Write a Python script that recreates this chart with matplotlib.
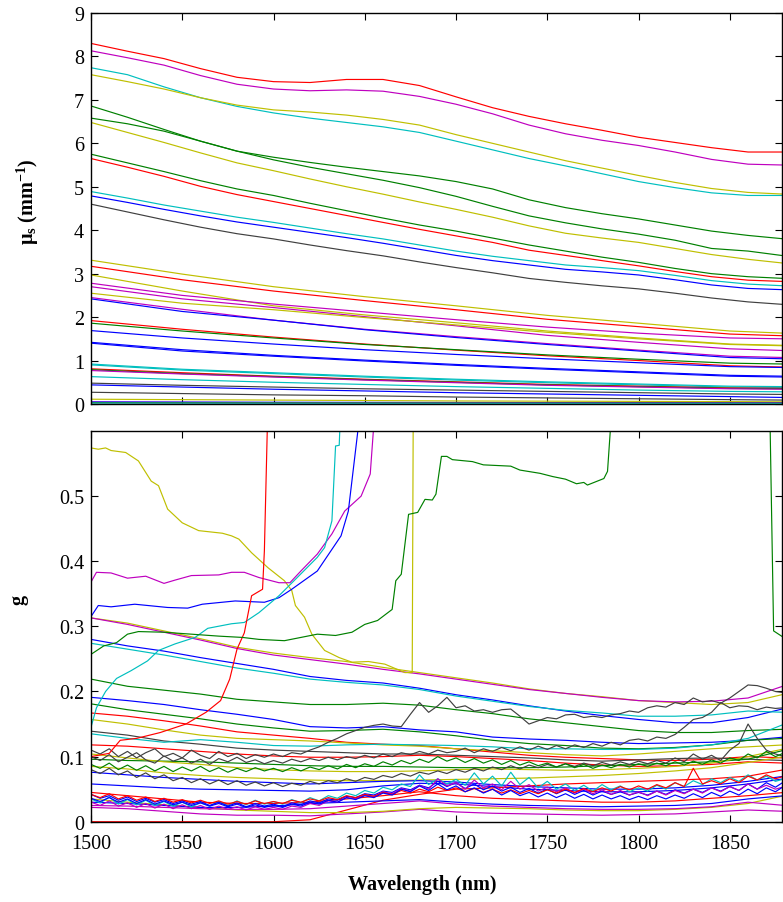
"""Scattering coefficient and anisotropy spectra, 1500-1880 nm."""

import matplotlib
matplotlib.use('Agg')
import matplotlib.pyplot as plt
from matplotlib.ticker import FuncFormatter

plt.rcParams['font.family'] = 'Liberation Serif'
plt.rcParams['mathtext.fontset'] = 'custom'
plt.rcParams['mathtext.rm'] = 'Liberation Serif'
plt.rcParams['mathtext.it'] = 'Liberation Serif:italic'
plt.rcParams['mathtext.bf'] = 'Liberation Serif:bold'

fontsize_ticks = 14.5
fontsize_label = 14.5
line_width = 0.85

colors = {'b': '#0000ff', 'g': '#008000', 'r': '#ff0000', 'c': '#00bfbf',
          'm': '#bf00bf', 'y': '#bfbf00', 'k': '#404040'}

# ---- mu_s (mm^-1) ----
mus_wl_fine = list(range(1500, 1881, 20))
mus_upper_colors = ['r', 'm', 'c', 'y', 'g', 'g', 'y', 'g', 'r', 'c', 'b', 'k']
mus_upper = [
    [8.30, 8.12, 7.95, 7.72, 7.52, 7.42, 7.40, 7.47, 7.47, 7.33, 7.07, 6.82, 6.62, 6.45, 6.30, 6.14, 6.02, 5.90, 5.80, 5.80],
    [8.13, 7.97, 7.80, 7.56, 7.36, 7.25, 7.21, 7.23, 7.20, 7.08, 6.90, 6.68, 6.42, 6.22, 6.07, 5.95, 5.80, 5.63, 5.52, 5.50],
    [7.74, 7.58, 7.30, 7.05, 6.85, 6.70, 6.58, 6.48, 6.38, 6.25, 6.05, 5.85, 5.65, 5.48, 5.30, 5.12, 4.98, 4.86, 4.80, 4.80],
    [7.58, 7.42, 7.25, 7.05, 6.88, 6.77, 6.72, 6.65, 6.55, 6.42, 6.20, 6.00, 5.80, 5.60, 5.43, 5.26, 5.10, 4.96, 4.87, 4.83],
    [6.86, 6.60, 6.32, 6.05, 5.82, 5.68, 5.56, 5.45, 5.35, 5.25, 5.12, 4.95, 4.70, 4.52, 4.38, 4.26, 4.12, 3.98, 3.88, 3.80],
    [6.58, 6.45, 6.28, 6.05, 5.82, 5.62, 5.45, 5.30, 5.15, 4.98, 4.78, 4.55, 4.33, 4.17, 4.03, 3.91, 3.77, 3.58, 3.52, 3.41],
    [6.48, 6.25, 6.02, 5.78, 5.55, 5.37, 5.18, 5.00, 4.83, 4.65, 4.48, 4.30, 4.10, 3.93, 3.82, 3.72, 3.58, 3.44, 3.33, 3.24],
    [5.75, 5.55, 5.35, 5.14, 4.95, 4.80, 4.62, 4.45, 4.28, 4.12, 3.98, 3.82, 3.66, 3.52, 3.38, 3.26, 3.12, 3.00, 2.93, 2.89],
    [5.65, 5.45, 5.24, 5.01, 4.82, 4.66, 4.50, 4.34, 4.18, 4.02, 3.87, 3.72, 3.54, 3.42, 3.30, 3.18, 3.05, 2.93, 2.85, 2.82],
    [4.89, 4.74, 4.58, 4.44, 4.30, 4.18, 4.05, 3.92, 3.80, 3.66, 3.52, 3.40, 3.30, 3.20, 3.14, 3.07, 2.96, 2.84, 2.76, 2.72],
    [4.79, 4.64, 4.48, 4.33, 4.19, 4.07, 3.95, 3.83, 3.70, 3.56, 3.42, 3.30, 3.20, 3.10, 3.04, 2.97, 2.86, 2.74, 2.66, 2.63],
    [4.60, 4.42, 4.24, 4.07, 3.92, 3.80, 3.66, 3.53, 3.41, 3.27, 3.14, 3.02, 2.89, 2.80, 2.72, 2.65, 2.55, 2.44, 2.35, 2.29],
]

mus_wl = [1500, 1550, 1600, 1650, 1700, 1750, 1800, 1850, 1880]
mus_lower_colors = ['y', 'r', 'y', 'm', 'm', 'y', 'm', 'b', 'r', 'g', 'b', 'b', 'b',
                    'c', 'c', 'r', 'g', 'm', 'c', 'k', 'b', 'k', 'y',
                    'b', 'm', 'g', 'c', 'r']
mus_lower = [
    [3.31, 2.99, 2.70, 2.47, 2.26, 2.04, 1.86, 1.68, 1.63],
    [3.17, 2.86, 2.60, 2.38, 2.17, 1.95, 1.78, 1.61, 1.57],
    [2.97, 2.60, 2.26, 2.05, 1.87, 1.68, 1.52, 1.38, 1.35],
    [2.78, 2.50, 2.30, 2.12, 1.94, 1.77, 1.63, 1.52, 1.50],
    [2.70, 2.42, 2.22, 2.01, 1.80, 1.58, 1.42, 1.27, 1.23],
    [2.55, 2.32, 2.17, 1.99, 1.82, 1.65, 1.50, 1.37, 1.34],
    [2.45, 2.18, 1.93, 1.72, 1.55, 1.39, 1.24, 1.10, 1.07],
    [2.42, 2.13, 1.93, 1.71, 1.53, 1.37, 1.22, 1.07, 1.04],
    [1.92, 1.72, 1.54, 1.38, 1.24, 1.11, 1.00, 0.88, 0.85],
    [1.86, 1.68, 1.52, 1.37, 1.25, 1.13, 1.03, 0.94, 0.92],
    [1.69, 1.52, 1.38, 1.25, 1.14, 1.04, 0.95, 0.86, 0.84],
    [1.42, 1.25, 1.12, 1.01, 0.91, 0.82, 0.74, 0.66, 0.64],
    [1.40, 1.22, 1.10, 0.99, 0.89, 0.80, 0.72, 0.64, 0.62],
    [0.92, 0.80, 0.72, 0.64, 0.57, 0.51, 0.46, 0.41, 0.40],
    [0.90, 0.78, 0.70, 0.62, 0.55, 0.49, 0.44, 0.39, 0.38],
    [0.81, 0.72, 0.64, 0.57, 0.51, 0.45, 0.41, 0.37, 0.36],
    [0.79, 0.70, 0.63, 0.56, 0.50, 0.44, 0.40, 0.36, 0.35],
    [0.77, 0.69, 0.62, 0.55, 0.49, 0.43, 0.39, 0.35, 0.34],
    [0.63, 0.56, 0.50, 0.45, 0.40, 0.36, 0.32, 0.29, 0.28],
    [0.48, 0.43, 0.39, 0.35, 0.32, 0.29, 0.26, 0.23, 0.22],
    [0.44, 0.39, 0.34, 0.30, 0.26, 0.23, 0.20, 0.17, 0.15],
    [0.27, 0.24, 0.21, 0.19, 0.16, 0.14, 0.12, 0.10, 0.09],
    [0.11, 0.10, 0.09, 0.08, 0.07, 0.065, 0.06, 0.055, 0.05],
    [0.05, 0.045, 0.04, 0.037, 0.034, 0.032, 0.03, 0.028, 0.027],
    [0.04, 0.036, 0.032, 0.03, 0.028, 0.026, 0.025, 0.024, 0.023],
    [0.03, 0.027, 0.024, 0.022, 0.02, 0.019, 0.018, 0.017, 0.017],
    [0.02, 0.018, 0.016, 0.015, 0.014, 0.013, 0.012, 0.012, 0.011],
    [0.0, 0.0, 0.0, 0.0, 0.0, 0.0, 0.0, 0.0, 0.0],
]

# ---- g: smooth curves on a 20 nm grid ----
g_wl = list(range(1500, 1881, 20))
g_smooth_colors = ['y', 'm', 'b', 'c', 'g', 'b', 'g', 'r', 'y', 'k', 'c', 'r',
                   'g', 'y', 'y', 'b', 'b', 'r', 'm', 'y', 'm', 'b', 'r']
g_smooth = [
    [0.313, 0.305, 0.293, 0.281, 0.268, 0.259, 0.252, 0.246, 0.237, 0.229, 0.221, 0.213, 0.204, 0.197, 0.192, 0.186, 0.183, 0.180, 0.183, 0.196],
    [0.313, 0.303, 0.291, 0.279, 0.266, 0.256, 0.249, 0.242, 0.234, 0.227, 0.219, 0.211, 0.203, 0.197, 0.191, 0.186, 0.184, 0.185, 0.190, 0.209],
    [0.280, 0.270, 0.262, 0.252, 0.243, 0.234, 0.223, 0.217, 0.213, 0.205, 0.195, 0.187, 0.178, 0.170, 0.163, 0.157, 0.152, 0.152, 0.160, 0.174],
    [0.274, 0.265, 0.256, 0.246, 0.236, 0.228, 0.219, 0.214, 0.210, 0.203, 0.193, 0.185, 0.177, 0.171, 0.167, 0.162, 0.162, 0.164, 0.170, 0.168],
    [0.219, 0.208, 0.202, 0.196, 0.188, 0.184, 0.180, 0.180, 0.182, 0.179, 0.172, 0.166, 0.158, 0.152, 0.146, 0.140, 0.137, 0.137, 0.140, 0.142],
    [0.191, 0.186, 0.180, 0.172, 0.165, 0.157, 0.146, 0.144, 0.146, 0.141, 0.138, 0.130, 0.127, 0.125, 0.122, 0.120, 0.121, 0.122, 0.125, 0.130],
    [0.181, 0.172, 0.165, 0.158, 0.150, 0.144, 0.139, 0.140, 0.142, 0.138, 0.132, 0.125, 0.120, 0.117, 0.113, 0.112, 0.114, 0.118, 0.125, 0.128],
    [0.167, 0.162, 0.155, 0.147, 0.138, 0.133, 0.128, 0.122, 0.119, 0.117, 0.112, 0.107, 0.102, 0.099, 0.097, 0.095, 0.094, 0.096, 0.100, 0.098],
    [0.157, 0.150, 0.141, 0.133, 0.128, 0.126, 0.124, 0.121, 0.118, 0.116, 0.112, 0.109, 0.106, 0.103, 0.101, 0.104, 0.108, 0.112, 0.115, 0.118],
    [0.139, 0.133, 0.124, 0.119, 0.113, 0.110, 0.108, 0.106, 0.104, 0.104, 0.102, 0.100, 0.098, 0.095, 0.093, 0.095, 0.097, 0.098, 0.096, 0.094],
    [0.135, 0.128, 0.122, 0.126, 0.122, 0.117, 0.116, 0.118, 0.119, 0.118, 0.117, 0.115, 0.112, 0.112, 0.111, 0.111, 0.113, 0.118, 0.128, 0.150],
    [0.118, 0.116, 0.112, 0.108, 0.104, 0.101, 0.099, 0.099, 0.100, 0.102, 0.100, 0.097, 0.094, 0.090, 0.087, 0.085, 0.086, 0.088, 0.092, 0.090],
    [0.096, 0.094, 0.093, 0.092, 0.090, 0.088, 0.086, 0.085, 0.085, 0.084, 0.083, 0.083, 0.083, 0.084, 0.086, 0.088, 0.090, 0.092, 0.096, 0.110],
    [0.085, 0.081, 0.075, 0.071, 0.068, 0.066, 0.064, 0.063, 0.063, 0.064, 0.065, 0.066, 0.067, 0.069, 0.071, 0.074, 0.078, 0.083, 0.091, 0.100],
    [0.104, 0.098, 0.092, 0.088, 0.083, 0.080, 0.078, 0.077, 0.077, 0.078, 0.080, 0.081, 0.080, 0.079, 0.080, 0.082, 0.085, 0.090, 0.100, 0.112],
    [0.076, 0.072, 0.068, 0.065, 0.062, 0.060, 0.058, 0.060, 0.062, 0.063, 0.061, 0.057, 0.054, 0.052, 0.050, 0.050, 0.052, 0.056, 0.062, 0.070],
    [0.058, 0.055, 0.052, 0.050, 0.049, 0.048, 0.047, 0.049, 0.055, 0.059, 0.058, 0.054, 0.050, 0.048, 0.046, 0.046, 0.048, 0.052, 0.058, 0.066],
    [0.0, 0.0, 0.0, 0.0, 0.0, 0.0, 0.003, 0.018, 0.033, 0.042, 0.050, 0.052, 0.055, 0.058, 0.060, 0.062, 0.064, 0.066, 0.070, 0.080],
    [0.022, 0.020, 0.016, 0.012, 0.010, 0.010, 0.009, 0.012, 0.015, 0.019, 0.015, 0.013, 0.012, 0.011, 0.010, 0.011, 0.012, 0.015, 0.018, 0.016],
    [0.035, 0.030, 0.026, 0.022, 0.018, 0.016, 0.014, 0.014, 0.016, 0.020, 0.022, 0.021, 0.020, 0.018, 0.017, 0.017, 0.019, 0.022, 0.028, 0.040],
    [0.025, 0.024, 0.022, 0.020, 0.019, 0.019, 0.020, 0.024, 0.028, 0.032, 0.027, 0.024, 0.022, 0.020, 0.019, 0.019, 0.020, 0.023, 0.030, 0.025],
    [0.030, 0.028, 0.025, 0.022, 0.022, 0.024, 0.028, 0.030, 0.032, 0.034, 0.030, 0.027, 0.025, 0.024, 0.023, 0.024, 0.025, 0.028, 0.035, 0.040],
    [0.045, 0.040, 0.035, 0.030, 0.028, 0.028, 0.030, 0.035, 0.040, 0.046, 0.040, 0.036, 0.034, 0.032, 0.030, 0.030, 0.032, 0.036, 0.040, 0.045],
]

# ---- g: noisy curves on a 5 nm grid ----
g_wl_noisy = list(range(1500, 1881, 5))
g_noisy_colors = ['k', 'k', 'k', 'g', 'c', 'b', 'm', 'r', 'b']
g_noisy = [
    [0.110, 0.104, 0.112, 0.100, 0.108, 0.098, 0.106, 0.112, 0.100, 0.105,
     0.098, 0.110, 0.102, 0.097, 0.108, 0.100, 0.105, 0.097, 0.103, 0.099,
     0.104, 0.100, 0.106, 0.104, 0.110, 0.115, 0.122, 0.128, 0.135, 0.140,
     0.145, 0.148, 0.150, 0.147, 0.146, 0.165, 0.183, 0.168, 0.178, 0.191,
     0.175, 0.178, 0.170, 0.172, 0.168, 0.172, 0.173, 0.162, 0.150, 0.155,
     0.160, 0.158, 0.164, 0.165, 0.160, 0.162, 0.160, 0.164, 0.166, 0.170,
     0.168, 0.175, 0.178, 0.176, 0.183, 0.180, 0.190, 0.184, 0.186, 0.182,
     0.190, 0.200, 0.210, 0.209, 0.205, 0.200, 0.198],
    [0.100, 0.094, 0.103, 0.092, 0.099, 0.106, 0.095, 0.090, 0.101, 0.093,
     0.098, 0.090, 0.096, 0.088, 0.097, 0.092, 0.099, 0.091, 0.095, 0.089,
     0.094, 0.090, 0.096, 0.092, 0.097, 0.094, 0.099, 0.095, 0.100, 0.097,
     0.102, 0.098, 0.104, 0.100, 0.106, 0.103, 0.108, 0.104, 0.110, 0.106,
     0.108, 0.113, 0.106, 0.112, 0.108, 0.114, 0.109, 0.115, 0.110, 0.116,
     0.111, 0.117, 0.112, 0.118, 0.114, 0.120, 0.116, 0.122, 0.118, 0.125,
     0.127, 0.124, 0.130, 0.128, 0.134, 0.145, 0.157, 0.160, 0.168, 0.183,
     0.175, 0.178, 0.177, 0.172, 0.176, 0.174, 0.175],
    [0.080, 0.074, 0.082, 0.072, 0.078, 0.068, 0.075, 0.066, 0.072, 0.063,
     0.068, 0.060, 0.066, 0.058, 0.064, 0.057, 0.063, 0.056, 0.061, 0.055,
     0.060, 0.054, 0.059, 0.056, 0.062, 0.058, 0.063, 0.060, 0.066, 0.062,
     0.068, 0.065, 0.071, 0.068, 0.074, 0.070, 0.076, 0.073, 0.078, 0.074,
     0.080, 0.076, 0.082, 0.078, 0.084, 0.080, 0.086, 0.081, 0.087, 0.083,
     0.088, 0.084, 0.089, 0.085, 0.090, 0.086, 0.091, 0.087, 0.092, 0.088,
     0.093, 0.089, 0.094, 0.090, 0.098, 0.092, 0.104, 0.096, 0.102, 0.094,
     0.110, 0.120, 0.150, 0.128, 0.110, 0.104, 0.100],
    [0.088, 0.082, 0.090, 0.080, 0.087, 0.079, 0.086, 0.078, 0.085, 0.077,
     0.084, 0.078, 0.085, 0.077, 0.083, 0.076, 0.082, 0.077, 0.083, 0.078,
     0.082, 0.077, 0.083, 0.078, 0.084, 0.080, 0.086, 0.081, 0.088, 0.083,
     0.089, 0.085, 0.092, 0.087, 0.094, 0.089, 0.096, 0.091, 0.100, 0.093,
     0.098, 0.091, 0.097, 0.090, 0.095, 0.088, 0.094, 0.087, 0.092, 0.086,
     0.090, 0.084, 0.089, 0.083, 0.088, 0.082, 0.087, 0.083, 0.088, 0.084,
     0.089, 0.085, 0.090, 0.086, 0.092, 0.087, 0.093, 0.088, 0.095, 0.090,
     0.098, 0.094, 0.104, 0.098, 0.108, 0.100, 0.106],
    [0.035, 0.029, 0.038, 0.027, 0.034, 0.026, 0.033, 0.025, 0.031, 0.024,
     0.030, 0.023, 0.029, 0.024, 0.031, 0.025, 0.032, 0.026, 0.033, 0.027,
     0.031, 0.027, 0.034, 0.029, 0.037, 0.032, 0.040, 0.036, 0.044, 0.040,
     0.048, 0.044, 0.053, 0.049, 0.058, 0.054, 0.072, 0.057, 0.066, 0.058,
     0.065, 0.056, 0.075, 0.058, 0.070, 0.055, 0.076, 0.057, 0.068, 0.052,
     0.062, 0.050, 0.058, 0.048, 0.056, 0.047, 0.057, 0.049, 0.055, 0.046,
     0.052, 0.047, 0.056, 0.050, 0.060, 0.054, 0.063, 0.057, 0.066, 0.060,
     0.068, 0.062, 0.072, 0.064, 0.070, 0.062, 0.066],
    [0.042, 0.036, 0.040, 0.033, 0.038, 0.031, 0.036, 0.030, 0.034, 0.028,
     0.032, 0.027, 0.031, 0.025, 0.030, 0.024, 0.029, 0.023, 0.028, 0.024,
     0.027, 0.023, 0.029, 0.026, 0.032, 0.029, 0.035, 0.033, 0.039, 0.037,
     0.043, 0.041, 0.047, 0.045, 0.052, 0.049, 0.056, 0.052, 0.062, 0.054,
     0.060, 0.051, 0.058, 0.049, 0.055, 0.047, 0.053, 0.045, 0.051, 0.044,
     0.050, 0.043, 0.049, 0.042, 0.048, 0.041, 0.047, 0.042, 0.046, 0.041,
     0.045, 0.041, 0.047, 0.042, 0.049, 0.044, 0.050, 0.045, 0.052, 0.047,
     0.054, 0.048, 0.058, 0.050, 0.060, 0.053, 0.062],
    [0.030, 0.025, 0.032, 0.024, 0.029, 0.022, 0.028, 0.021, 0.027, 0.020,
     0.026, 0.020, 0.025, 0.019, 0.024, 0.019, 0.023, 0.018, 0.023, 0.019,
     0.022, 0.019, 0.024, 0.022, 0.028, 0.025, 0.032, 0.030, 0.037, 0.035,
     0.041, 0.039, 0.046, 0.043, 0.051, 0.047, 0.056, 0.050, 0.066, 0.055,
     0.060, 0.050, 0.064, 0.052, 0.058, 0.049, 0.062, 0.050, 0.057, 0.047,
     0.053, 0.046, 0.052, 0.044, 0.050, 0.043, 0.049, 0.042, 0.048, 0.041,
     0.046, 0.040, 0.047, 0.041, 0.048, 0.043, 0.050, 0.044, 0.052, 0.046,
     0.054, 0.048, 0.058, 0.050, 0.056, 0.050, 0.054],
    [0.042, 0.037, 0.043, 0.035, 0.040, 0.033, 0.038, 0.031, 0.036, 0.030,
     0.034, 0.029, 0.033, 0.028, 0.032, 0.027, 0.031, 0.027, 0.032, 0.028,
     0.031, 0.028, 0.033, 0.030, 0.035, 0.032, 0.037, 0.034, 0.040, 0.037,
     0.042, 0.039, 0.045, 0.042, 0.048, 0.044, 0.050, 0.046, 0.053, 0.048,
     0.052, 0.046, 0.051, 0.045, 0.050, 0.044, 0.049, 0.043, 0.048, 0.043,
     0.049, 0.044, 0.050, 0.045, 0.051, 0.046, 0.052, 0.047, 0.054, 0.049,
     0.055, 0.050, 0.057, 0.052, 0.060, 0.054, 0.082, 0.058, 0.063, 0.058,
     0.066, 0.060, 0.070, 0.064, 0.072, 0.066, 0.070],
    [0.036, 0.031, 0.037, 0.030, 0.035, 0.028, 0.034, 0.027, 0.032, 0.026,
     0.030, 0.025, 0.029, 0.024, 0.028, 0.023, 0.027, 0.022, 0.026, 0.022,
     0.025, 0.022, 0.027, 0.024, 0.030, 0.027, 0.033, 0.030, 0.037, 0.034,
     0.040, 0.037, 0.044, 0.041, 0.050, 0.046, 0.055, 0.048, 0.058, 0.049,
     0.055, 0.046, 0.052, 0.044, 0.050, 0.041, 0.048, 0.040, 0.045, 0.038,
     0.044, 0.037, 0.043, 0.036, 0.042, 0.035, 0.041, 0.035, 0.040, 0.034,
     0.039, 0.034, 0.040, 0.035, 0.041, 0.036, 0.043, 0.037, 0.045, 0.039,
     0.047, 0.041, 0.050, 0.043, 0.052, 0.046, 0.055],
]

# ---- g: curves that run off the top of the axes ----
yellow_top_wl = [1500, 1504, 1508, 1511, 1519, 1526, 1533, 1537, 1542, 1550, 1559, 1572, 1577, 1581, 1588,
                 1597, 1606, 1610, 1612, 1617, 1621, 1628, 1636, 1643, 1652, 1661, 1672, 1676, 1677, 1880]
yellow_top_g = [0.574, 0.572, 0.574, 0.570, 0.567, 0.554, 0.523, 0.516, 0.480, 0.459, 0.447, 0.443, 0.439, 0.434, 0.413,
                0.390, 0.370, 0.355, 0.332, 0.314, 0.288, 0.263, 0.252, 0.245, 0.246, 0.242, 0.229, 0.229, 0.95, 0.95]

magenta_top_wl = [1500, 1503, 1511, 1520, 1530, 1540, 1546, 1555, 1570, 1577, 1584, 1592, 1603, 1609, 1615,
                  1624, 1632, 1639, 1648, 1653, 1656, 1880]
magenta_top_g = [0.368, 0.383, 0.382, 0.374, 0.377, 0.366, 0.371, 0.378, 0.379, 0.383, 0.383, 0.375, 0.367, 0.367, 0.385,
                 0.411, 0.442, 0.477, 0.500, 0.534, 0.65, 0.65]

blue_top_wl = [1500, 1504, 1511, 1524, 1542, 1553, 1561, 1579, 1595, 1603, 1610, 1624, 1637, 1641, 1646, 1648, 1880]
blue_top_g = [0.315, 0.332, 0.330, 0.334, 0.329, 0.328, 0.334, 0.339, 0.337, 0.344, 0.357, 0.385, 0.439, 0.477, 0.595,
              0.65, 0.65]

cyan_top_wl = [1500, 1503, 1508, 1514, 1522, 1531, 1537, 1546, 1557, 1564, 1577, 1584, 1592, 1603, 1613, 1624,
               1628, 1632, 1634, 1636, 1637, 1880]
cyan_top_g = [0.145, 0.175, 0.200, 0.220, 0.232, 0.247, 0.263, 0.273, 0.283, 0.297, 0.304, 0.306, 0.321, 0.347, 0.375,
              0.406, 0.421, 0.462, 0.577, 0.578, 0.65, 0.65]

red_top_wl = [1500, 1510, 1516, 1525, 1538, 1552, 1563, 1571, 1576, 1580, 1584, 1588, 1594, 1595, 1597, 1880]
red_top_g = [0.100, 0.105, 0.125, 0.128, 0.137, 0.150, 0.168, 0.186, 0.219, 0.265, 0.290, 0.347, 0.357, 0.416, 0.65, 0.65]

green_top_wl = [1500, 1507, 1514, 1520, 1526, 1540, 1555, 1570, 1583, 1592, 1606, 1615, 1624, 1634, 1643, 1650,
                1657, 1665, 1667, 1670, 1674, 1679, 1683, 1687, 1689, 1692, 1695, 1698, 1709, 1715, 1730, 1735,
                1746, 1753, 1760, 1766, 1770, 1772, 1781, 1783, 1785, 1872, 1874, 1880]
green_top_g = [0.257, 0.270, 0.275, 0.288, 0.292, 0.291, 0.288, 0.285, 0.283, 0.280, 0.278, 0.283, 0.288, 0.286,
               0.291, 0.303, 0.309, 0.326, 0.370, 0.380, 0.472, 0.475, 0.495, 0.494, 0.503, 0.561, 0.561, 0.556,
               0.553, 0.548, 0.546, 0.540, 0.535, 0.530, 0.526, 0.519, 0.521, 0.517, 0.527, 0.538, 0.62, 0.62,
               0.293, 0.282]

top_curves = [(yellow_top_wl, yellow_top_g, 'y'), (magenta_top_wl, magenta_top_g, 'm'),
              (blue_top_wl, blue_top_g, 'b'), (cyan_top_wl, cyan_top_g, 'c'),
              (red_top_wl, red_top_g, 'r'), (green_top_wl, green_top_g, 'g')]

xticks = [1500, 1550, 1600, 1650, 1700, 1750, 1800, 1850]

fig = plt.figure(figsize=(7.83, 9.03), dpi=100)
ax1 = fig.add_axes([0.1162, 0.5515, 0.8823, 0.4330])
ax2 = fig.add_axes([0.1162, 0.0889, 0.8823, 0.4327])

for vals, c in zip(mus_upper, mus_upper_colors):
    ax1.plot(mus_wl_fine, vals, color=colors[c], lw=line_width)
for vals, c in zip(mus_lower, mus_lower_colors):
    ax1.plot(mus_wl, vals, color=colors[c], lw=line_width)

for vals, c in zip(g_smooth, g_smooth_colors):
    ax2.plot(g_wl, vals, color=colors[c], lw=line_width)
for vals, c in zip(g_noisy, g_noisy_colors):
    ax2.plot(g_wl_noisy[:len(vals)], vals, color=colors[c], lw=line_width)
for wl, vals, c in top_curves:
    ax2.plot(wl, vals, color=colors[c], lw=line_width)

for ax in (ax1, ax2):
    ax.set_xlim(1500, 1878.5)
    ax.set_xticks(xticks)
    ax.tick_params(direction='in', top=True, right=True, length=5, width=0.8,
                   labelsize=fontsize_ticks, pad=5)
    for sp in ax.spines.values():
        sp.set_linewidth(1.0)

ax1.set_ylim(0, 9)
ax1.set_yticks(range(0, 10))
ax1.set_xticklabels([])
ax1.set_ylabel(r'$\mathbf{\mu_s}$ $\mathbf{(mm^{-1})}$', fontsize=fontsize_label)
ax1.yaxis.set_label_coords(-0.072, 0.52)

ax2.set_ylim(0, 0.6)
ax2.set_yticks([0, 0.1, 0.2, 0.3, 0.4, 0.5])
ax2.yaxis.set_major_formatter(FuncFormatter(lambda v, p: '%g' % round(v, 2)))
ax2.tick_params(axis='x', pad=9)
ax2.set_ylabel('g', fontsize=fontsize_label, fontweight='bold')
ax2.yaxis.set_label_coords(-0.09, 0.57)
ax2.set_xlabel('Wavelength (nm)', fontsize=fontsize_label, fontweight='bold')
ax2.xaxis.set_label_coords(0.48, -0.135)

fig.savefig('out.png', dpi=100)
